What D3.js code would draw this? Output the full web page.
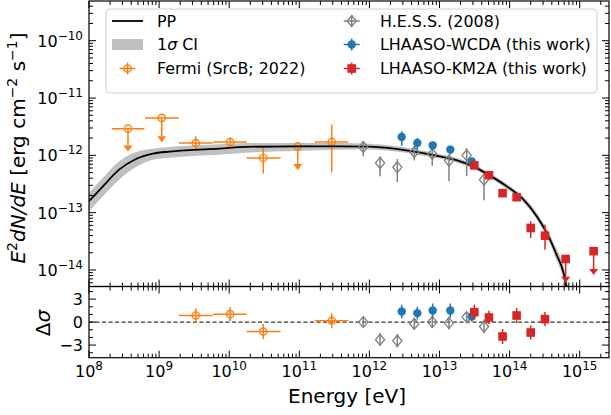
<!DOCTYPE html>
<html><head><meta charset="utf-8">
<script src="https://cdn.jsdelivr.net/npm/d3@7"></script>
<style>body{margin:0;background:#fff} svg{display:block} text{font-family:"DejaVu Sans",sans-serif;fill:#000}</style>
</head><body><svg id="c" width="611" height="415"></svg>
<script>
// ---------------- data ----------------
const modelE = [1e8,1.58e8,2.69e8,4.68e8,8.13e8,1.41e9,2.40e9,7.24e9,1.74e10,9.33e10,3.80e11,1e12,4.17e12,1e13,1.78e13,3.02e13,5.25e13,9.12e13,1.58e14,2.45e14,3.39e14,4.68e14,5.89e14,6.46e14,7.41e14];
const modelF = [1.585e-13,2.884e-13,5.623e-13,8.65e-13,1.072e-12,1.161e-12,1.222e-12,1.309e-12,1.403e-12,1.435e-12,1.435e-12,1.419e-12,1.175e-12,9.62e-13,8.18e-13,6.43e-13,4.43e-13,2.877e-13,1.687e-13,8.61e-14,4.43e-14,1.849e-14,8.87e-15,5.18e-15,2.82e-15];
const bandHi = [2.22e-13,4.07e-13,7.85e-13,1.14e-12,1.303e-12,1.396e-12,1.469e-12,1.556e-12,1.648e-12,1.648e-12,1.64e-12,1.592e-12,1.303e-12,1.054e-12,8.97e-13,7.05e-13,4.85e-13,3.19e-13,1.89e-13,9.89e-14,5.32e-14,2.33e-14,1.17e-14,6.98e-15,3.89e-15];
const bandLo = [1.06e-13,1.93e-13,3.76e-13,6.27e-13,8.41e-13,9.12e-13,9.59e-13,1.028e-12,1.114e-12,1.194e-12,1.256e-12,1.265e-12,1.059e-12,8.77e-13,7.46e-13,5.86e-13,4.04e-13,2.59e-13,1.50e-13,7.50e-14,3.68e-14,1.47e-14,6.73e-15,3.84e-15,2.04e-15];

const fermiE   = [3.6e8,1.09e9,3.33e9,1.03e10,3.06e10,9.5e10,2.9e11];
const fermiElo = [2.11e8,6.3e8,1.92e9,5.88e9,1.78e10,5.43e10,1.67e11];
const fermiEhi = [6.15e8,1.92e9,5.82e9,1.78e10,5.43e10,1.66e11,5.0e11];
const fermiF   = [2.92e-12,4.5e-12,1.64e-12,1.71e-12,9.0e-13,1.435e-12,1.71e-12];
const fermiFlo = [1.26e-12,1.83e-12,1.175e-12,1.435e-12,4.8e-13,6.03e-13,5.05e-13];
const fermiFhi = [null,null,2.15e-12,2.04e-12,1.36e-12,null,3.44e-12];
const fermiUL  = [true,true,false,false,false,true,false];
const fermiResIdx = [2,3,4,6];
const fermiRes    = [0.86,1.04,-1.22,0.17];
const fermiResErr = [0.95,0.94,0.98,0.98];

const hessE   = [8.18e11,1.42e12,2.5e12,4.37e12,7.89e12,1.365e13,2.44e13,4.32e13];
const hessF   = [1.40e-12,7.36e-13,6.18e-13,1.145e-12,1.057e-12,8.09e-13,1.0e-12,3.77e-13];
const hessFlo = [9.6e-13,4.3e-13,3.44e-13,8.09e-13,6.6e-13,3.52e-13,4.3e-13,1.64e-13];
const hessFhi = [1.75e-12,9.6e-13,8.65e-13,1.435e-12,1.294e-12,1.028e-12,1.345e-12,4.6e-13];
const hessRes    = [0,-2.3,-2.44,-0.22,0,-0.13,0.65,-0.57];
const hessResErr = [0.65,0.83,0.87,0.76,0.76,0.8,0.65,0.9];

const wcdaE   = [2.89e12,4.83e12,8.0e12,1.426e13,2.88e13];
const wcdaF   = [2.09e-12,1.645e-12,1.495e-12,1.26e-12,7.8e-13];
const wcdaFlo = [1.475e-12,1.26e-12,1.26e-12,1.028e-12,6.9e-13];
const wcdaFhi = [2.62e-12,2.01e-12,1.75e-12,1.475e-12,8.8e-13];
const wcdaRes    = [1.38,1.17,1.52,1.52,0.73];
const wcdaResErr = [0.87,0.83,0.91,0.91,0.65];

const km2aE   = [3.14e13,5.08e13,7.94e13,1.26e14,2.0e14,3.2e14,6.3e14,1.58e15];
const km2aF   = [6.68e-13,4.5e-13,2.19e-13,1.86e-13,5.41e-14,3.97e-14,1.556e-14,2.13e-14];
const km2aFlo = [5.9e-13,4.05e-13,2.02e-13,1.68e-13,3.61e-14,2.26e-14,6.5e-15,8.87e-15];
const km2aFhi = [7.6e-13,5.0e-13,2.38e-13,2.06e-13,7.05e-14,6.18e-14,null,null];
const km2aUL  = [false,false,false,false,false,false,true,true];
const km2aRes    = [1.3,0.6,-1.88,0.86,-1.36,0.39];
const km2aResErr = [0.98,0.87,0.98,0.98,0.91,0.93];

const xTickExp = [8,9,10,11,12,13,14,15];
const yTickExp = [-14,-13,-12,-11,-10];
const resTicks = [-3,0,3];
const legendLabels = ["PP","1σ CI","Fermi (SrcB; 2022)","H.E.S.S. (2008)","LHAASO-WCDA (this work)","LHAASO-KM2A (this work)"];

// ---------------- layout ----------------
const L=89, R=609, T1=1, B1=286.5, T2=286.5, B2=357.7;
const C_OR="#ff7f0e", C_BL="#1f77b4", C_RD="#d62728", C_GR="#808080", C_BAND="#c0c0c0";

const svg = d3.select("#c");
const x = d3.scaleLog().domain([1e8, Math.pow(10,15.418)]).range([L,R]);
const y = d3.scaleLog().domain([Math.pow(10,-14.288), Math.pow(10,-9.3075)]).range([B1,T1]);
const yr = d3.scaleLinear().domain([-4.65,4.65]).range([B2,T2]);

const defs = svg.append("defs");
defs.append("clipPath").attr("id","cp1").append("rect").attr("x",L).attr("y",T1).attr("width",R-L).attr("height",B1-T1);
defs.append("clipPath").attr("id","cp2").append("rect").attr("x",L).attr("y",T2).attr("width",R-L).attr("height",B2-T2);

const g1 = svg.append("g").attr("clip-path","url(#cp1)");
const g2 = svg.append("g").attr("clip-path","url(#cp2)");

// band
const idx = d3.range(modelE.length);
g1.append("path").datum(idx)
  .attr("d", d3.area().x(i=>x(modelE[i])).y0(i=>y(bandLo[i])).y1(i=>y(bandHi[i])).curve(d3.curveMonotoneX))
  .attr("fill",C_BAND).attr("stroke","none");

// helpers
function vline(g,xx,y0,y1,c,w){g.append("line").attr("x1",xx).attr("x2",xx).attr("y1",y0).attr("y2",y1).attr("stroke",c).attr("stroke-width",w||1.5);}
function hline(g,x0,x1,yy,c,w){g.append("line").attr("x1",x0).attr("x2",x1).attr("y1",yy).attr("y2",yy).attr("stroke",c).attr("stroke-width",w||1.5);}
function arrowDown(g,xx,yt,c){g.append("path").attr("d",`M${xx-4.5},${yt-6}L${xx+4.5},${yt-6}L${xx},${yt}Z`).attr("fill",c);}
function circO(g,cx,cy,c){g.append("circle").attr("cx",cx).attr("cy",cy).attr("r",3.6).attr("fill","none").attr("stroke",c).attr("stroke-width",1.4);}
function circF(g,cx,cy,c){g.append("circle").attr("cx",cx).attr("cy",cy).attr("r",4.2).attr("fill",c);}
function diamO(g,cx,cy,c){g.append("path").attr("d",`M${cx},${cy-5.5}L${cx+4.6},${cy}L${cx},${cy+5.5}L${cx-4.6},${cy}Z`).attr("fill","none").attr("stroke",c).attr("stroke-width",1.3);}
function sqF(g,cx,cy,c){g.append("rect").attr("x",cx-4.3).attr("y",cy-4.3).attr("width",8.6).attr("height",8.6).attr("fill",c);}

// Fermi (under the model line)
fermiE.forEach((e,i)=>{
  const px=x(e), py=y(fermiF[i]);
  hline(g1,x(fermiElo[i]),x(fermiEhi[i]),py,C_OR);
  if(fermiUL[i]){ vline(g1,px,py,y(fermiFlo[i])-4,C_OR); arrowDown(g1,px,y(fermiFlo[i])+2,C_OR); }
  else vline(g1,px,y(fermiFhi[i]),y(fermiFlo[i]),C_OR);
  circO(g1,px,py,C_OR);
});

// model line
g1.append("path").datum(idx)
  .attr("d", d3.line().x(i=>x(modelE[i])).y(i=>y(modelF[i])).curve(d3.curveMonotoneX))
  .attr("fill","none").attr("stroke","#000").attr("stroke-width",1.8);

// HESS
hessE.forEach((e,i)=>{ const px=x(e),py=y(hessF[i]); vline(g1,px,y(hessFhi[i]),y(hessFlo[i]),C_GR); diamO(g1,px,py,C_GR); });
// WCDA
wcdaE.forEach((e,i)=>{ const px=x(e),py=y(wcdaF[i]); vline(g1,px,y(wcdaFhi[i]),y(wcdaFlo[i]),C_BL); circF(g1,px,py,C_BL); });
// KM2A
km2aE.forEach((e,i)=>{ const px=x(e),py=y(km2aF[i]);
  if(km2aUL[i]){ vline(g1,px,py,y(km2aFlo[i])-4,C_RD); arrowDown(g1,px,y(km2aFlo[i])+2,C_RD); }
  else vline(g1,px,y(km2aFhi[i]),y(km2aFlo[i]),C_RD);
  sqF(g1,px,py,C_RD); });

// residual panel
g2.append("line").attr("x1",L).attr("x2",R).attr("y1",yr(0)).attr("y2",yr(0)).attr("stroke","#000").attr("stroke-width",1).attr("stroke-dasharray","4,2.5");
fermiResIdx.forEach((k,i)=>{ const px=x(fermiE[k]), py=yr(fermiRes[i]);
  hline(g2,x(fermiElo[k]),x(fermiEhi[k]),py,C_OR);
  vline(g2,px,yr(fermiRes[i]+fermiResErr[i]),yr(fermiRes[i]-fermiResErr[i]),C_OR);
  circO(g2,px,py,C_OR); });
hessE.forEach((e,i)=>{ const px=x(e),py=yr(hessRes[i]); vline(g2,px,yr(hessRes[i]+hessResErr[i]),yr(hessRes[i]-hessResErr[i]),C_GR); diamO(g2,px,py,C_GR); });
wcdaE.forEach((e,i)=>{ const px=x(e),py=yr(wcdaRes[i]); vline(g2,px,yr(wcdaRes[i]+wcdaResErr[i]),yr(wcdaRes[i]-wcdaResErr[i]),C_BL); circF(g2,px,py,C_BL); });
km2aRes.forEach((r,i)=>{ const px=x(km2aE[i]),py=yr(r); vline(g2,px,yr(r+km2aResErr[i]),yr(r-km2aResErr[i]),C_RD); sqF(g2,px,py,C_RD); });

// ---------------- axes ----------------
const ax = svg.append("g");
const MAJ=7, MIN=4;
function tick(x1,y1,x2,y2){ax.append("line").attr("x1",x1).attr("y1",y1).attr("x2",x2).attr("y2",y2).attr("stroke","#000").attr("stroke-width",1);}
const xMajors = xTickExp.map(n=>Math.pow(10,n));
const xMinors = [];
for(let n=7;n<=15;n++) for(let k=2;k<=9;k++){ const v=k*Math.pow(10,n); if(v>x.domain()[0] && v<x.domain()[1]) xMinors.push(v); }
[[T1,1],[B1,-1],[T2,1],[B2,-1]].forEach(([yy,d])=>{
  xMajors.forEach(v=>tick(x(v),yy,x(v),yy+d*MAJ));
  xMinors.forEach(v=>tick(x(v),yy,x(v),yy+d*MIN));
});
const yMajors = yTickExp.map(n=>Math.pow(10,n));
const yMinors = [];
for(let n=-15;n<=-10;n++) for(let k=2;k<=9;k++){ const v=k*Math.pow(10,n); if(v>y.domain()[0] && v<y.domain()[1]) yMinors.push(v); }
[[L,1],[R,-1]].forEach(([xx,d])=>{
  yMajors.forEach(v=>tick(xx,y(v),xx+d*MAJ,y(v)));
  yMinors.forEach(v=>tick(xx,y(v),xx+d*MIN,y(v)));
  resTicks.forEach(v=>tick(xx,yr(v),xx+d*MAJ,yr(v)));
  [-4,-2,-1,1,2,4].forEach(v=>tick(xx,yr(v),xx+d*MIN,yr(v)));
});
// spines
ax.append("rect").attr("x",L).attr("y",T1).attr("width",R-L).attr("height",B1-T1).attr("fill","none").attr("stroke","#000").attr("stroke-width",1.2);
ax.append("rect").attr("x",L).attr("y",T2).attr("width",R-L).attr("height",B2-T2).attr("fill","none").attr("stroke","#000").attr("stroke-width",1.2);

// tick labels
xTickExp.forEach(n=>{
  const t=ax.append("text").attr("x",x(Math.pow(10,n))).attr("y",376.5).attr("text-anchor","middle").attr("font-size",16);
  t.append("tspan").text("10");
  t.append("tspan").attr("dy",-7).attr("font-size",12).text(String(n));
});
yTickExp.forEach(n=>{
  const t=ax.append("text").attr("x",83).attr("y",y(Math.pow(10,n))+6).attr("text-anchor","end").attr("font-size",16);
  t.append("tspan").text("10");
  t.append("tspan").attr("dy",-7).attr("font-size",12).text("\u2212"+String(-n));
});
resTicks.forEach(v=>{
  ax.append("text").attr("x",83).attr("y",yr(v)+6).attr("text-anchor","end").attr("font-size",16).text(v<0?"\u2212"+(-v):String(v));
});

// axis labels
ax.append("text").attr("x",347).attr("y",403).attr("text-anchor","middle").attr("font-size",20).text("Energy [eV]");
const yl = ax.append("text").attr("transform","translate(25,148) rotate(-90)").attr("text-anchor","middle").attr("font-size",20);
yl.append("tspan").attr("font-style","italic").text("E");
yl.append("tspan").attr("dy",-8).attr("font-size",14).text("2");
yl.append("tspan").attr("dy",8).attr("font-style","italic").text("dN/dE");
yl.append("tspan").text(" [erg cm");
yl.append("tspan").attr("dy",-8).attr("font-size",14).text("\u22122");
yl.append("tspan").attr("dy",8).text(" s");
yl.append("tspan").attr("dy",-8).attr("font-size",14).text("\u22121");
yl.append("tspan").attr("dy",8).text("]");
const rl = ax.append("text").attr("transform","translate(50,323) rotate(-90)").attr("text-anchor","middle").attr("font-size",20);
rl.append("tspan").text("Δ");
rl.append("tspan").attr("font-style","italic").text("σ");

// ---------------- legend ----------------
const lg = svg.append("g");
lg.append("rect").attr("x",106).attr("y",9).attr("width",491).attr("height",84).attr("rx",4)
  .attr("fill","#fff").attr("fill-opacity",0.8).attr("stroke","#d0d0d0").attr("stroke-width",1);
const rows=[21,44.5,68.5];
const c1=127.5, c2=351.7;
hline(lg,112,143,rows[0],"#000",1.8);
lg.append("rect").attr("x",112).attr("y",rows[1]-5.5).attr("width",31).attr("height",11).attr("fill",C_BAND);
hline(lg,c1-8,c1+8,rows[2],C_OR); vline(lg,c1,rows[2]-6,rows[2]+6,C_OR); circO(lg,c1,rows[2],C_OR);
hline(lg,c2-8,c2+8,rows[0],C_GR); vline(lg,c2,rows[0]-6,rows[0]+6,C_GR); diamO(lg,c2,rows[0],C_GR);
hline(lg,c2-8,c2+8,rows[1],C_BL); vline(lg,c2,rows[1]-6,rows[1]+6,C_BL); circF(lg,c2,rows[1],C_BL);
hline(lg,c2-8,c2+8,rows[2],C_RD); vline(lg,c2,rows[2]-6,rows[2]+6,C_RD); sqF(lg,c2,rows[2],C_RD);
const lpos=[[157,rows[0]],[157,rows[1]],[157,rows[2]],[380,rows[0]],[380,rows[1]],[380,rows[2]]];
legendLabels.forEach((s,i)=>{
  const t=lg.append("text").attr("x",lpos[i][0]).attr("y",lpos[i][1]+5.7).attr("font-size",15.9);
  if(i===1){ t.append("tspan").text("1"); t.append("tspan").attr("font-style","italic").text("σ"); t.append("tspan").text(" CI"); }
  else t.text(s);
});
</script></body></html>
